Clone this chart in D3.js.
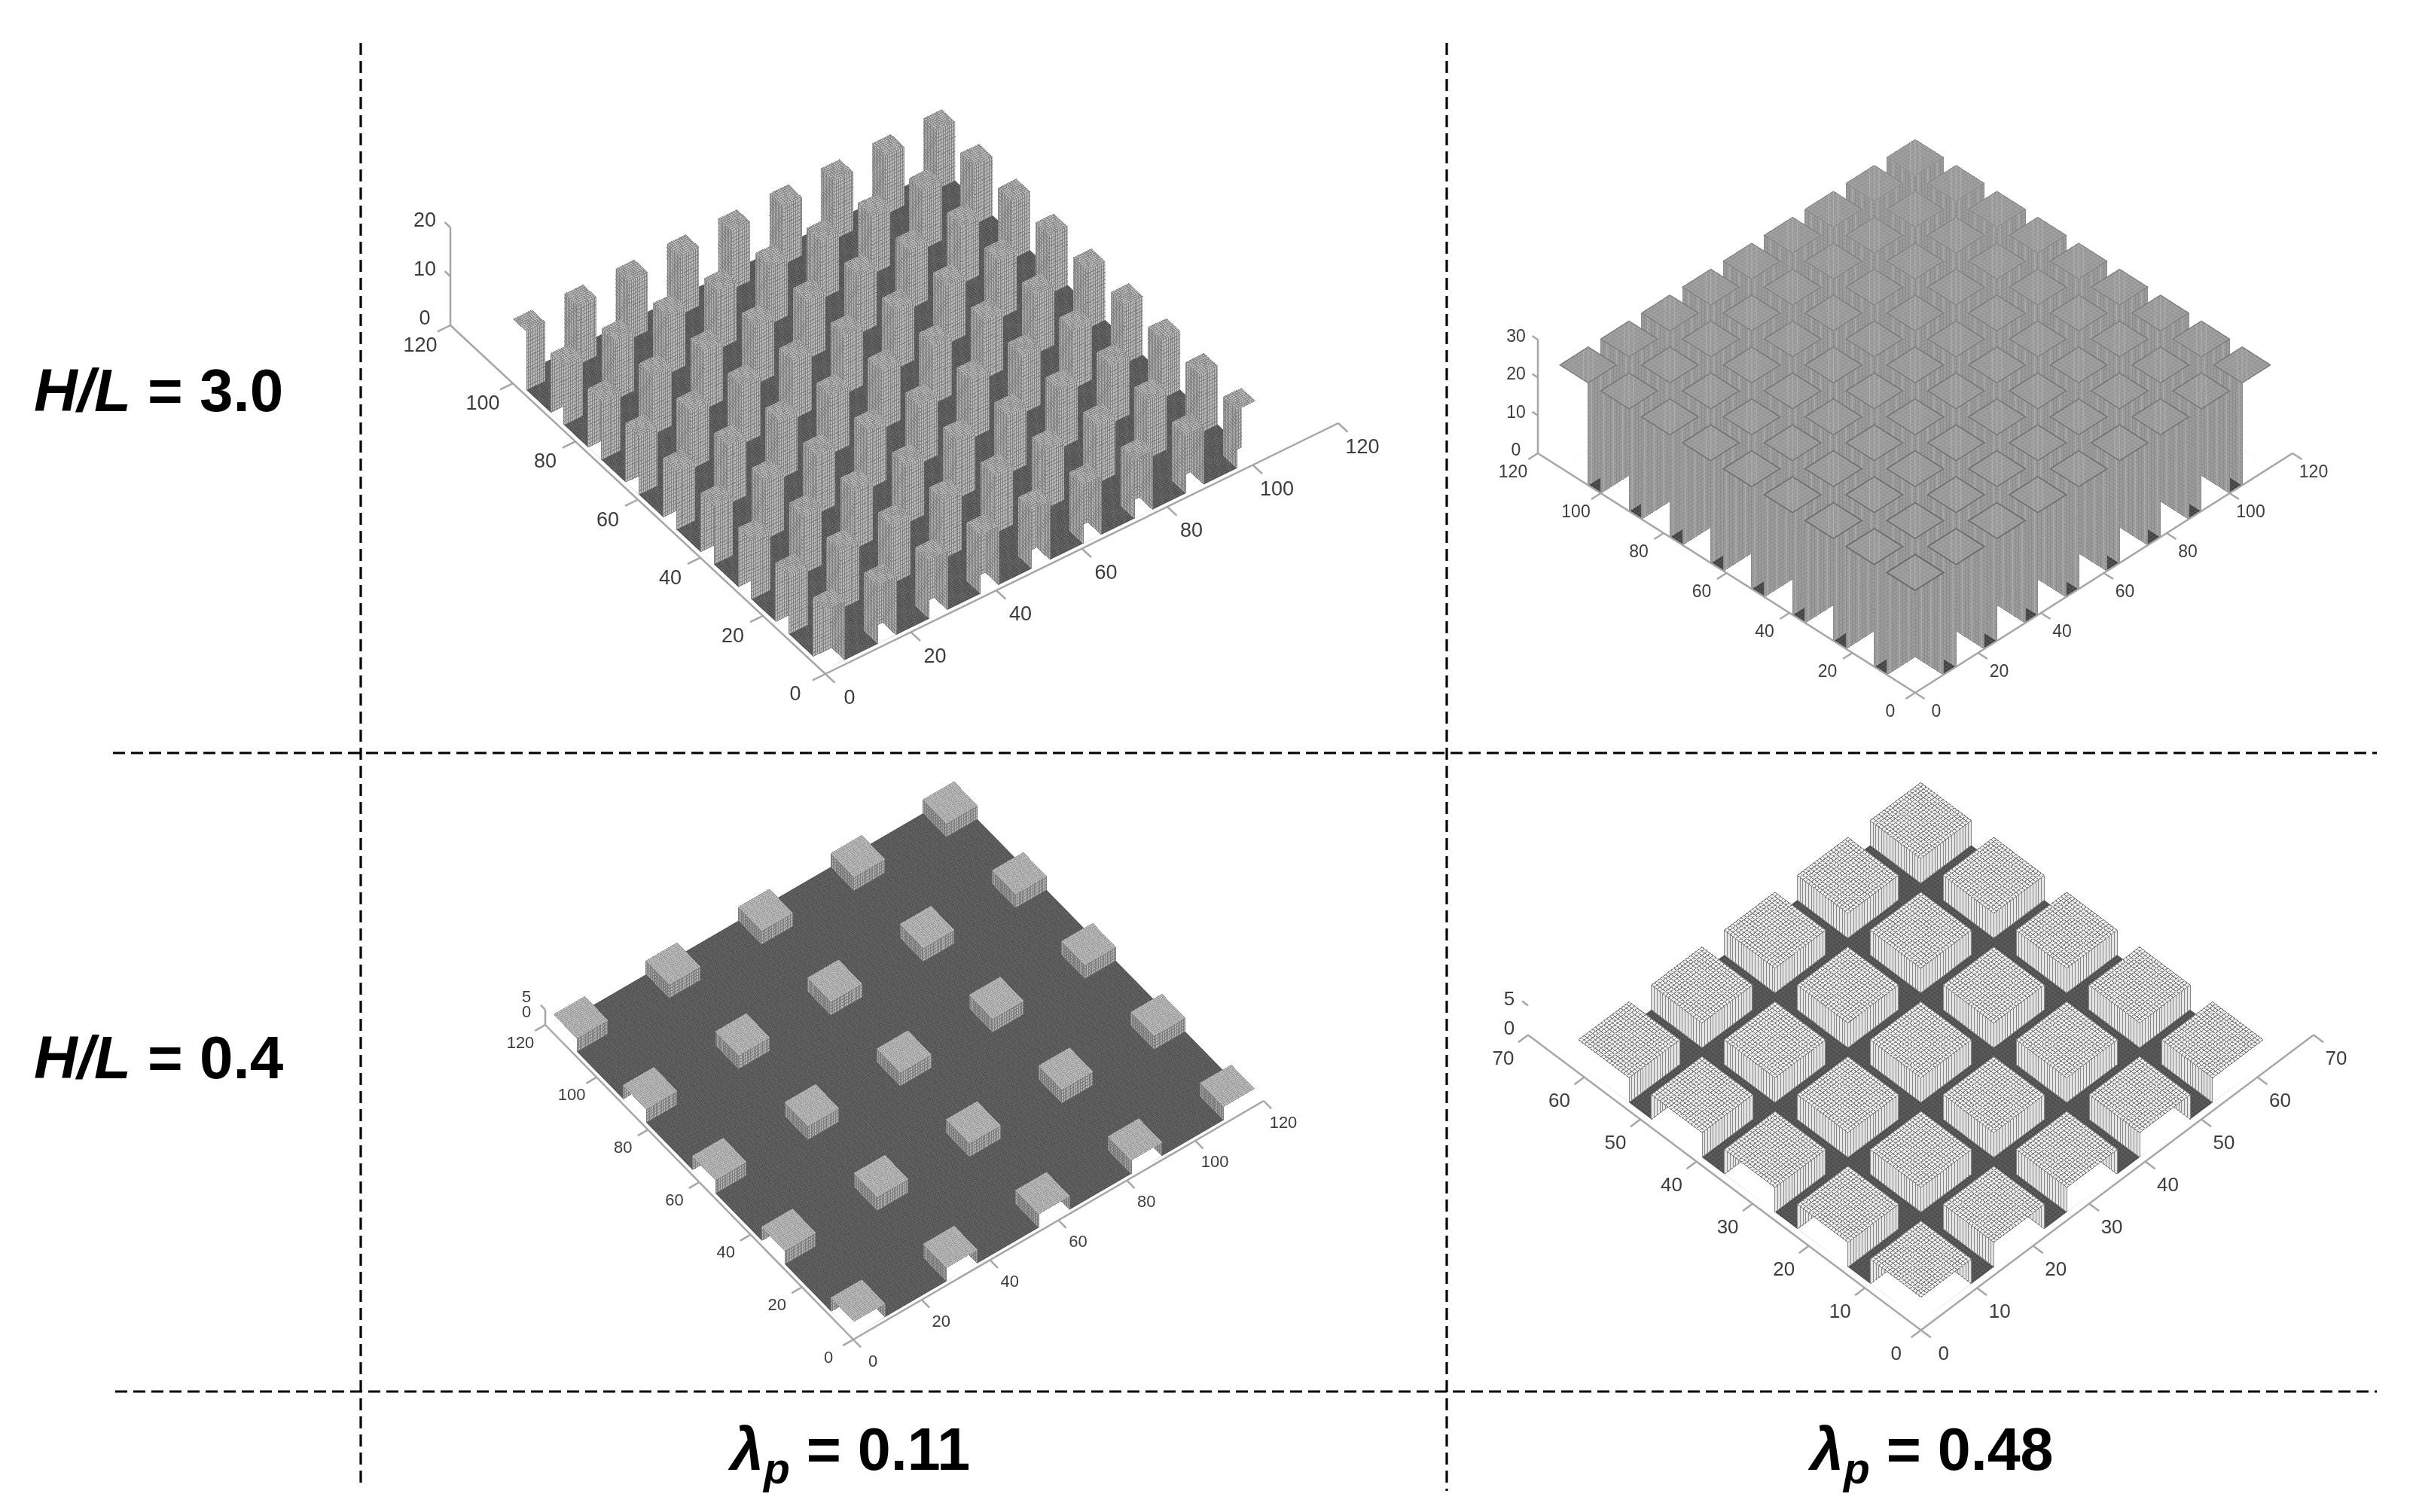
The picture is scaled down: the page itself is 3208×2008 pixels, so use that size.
<!DOCTYPE html>
<html><head><meta charset="utf-8">
<style>html,body{margin:0;background:#fff}svg{display:block}text{font-family:"Liberation Sans",Arial,sans-serif}</style>
<script src="https://cdnjs.cloudflare.com/ajax/libs/d3/7.8.5/d3.min.js"></script>
</head><body><svg id="c" width="3208" height="2008"></svg>
<script>
// ---- data ----
const rowLabels = ["3.0", "0.4"];
const columnLabels = ["0.11", "0.48"];
const startsA = [1, 13, 25, 37, 49, 61, 73, 85, 97];
const startsB = [0, 13, 26, 39, 52, 65, 78, 91, 104];
const startsC = [1, 28, 55, 82, 109];
const startsD = [1, 14, 27, 40, 53];
const widthA = 4.3, heightA = 12;
const widthB = 9, heightB = 27;
const widthC = 9, heightC = 4.5;
const widthD = 9, heightD = 4.2;
const ticks120 = [0, 20, 40, 60, 80, 100, 120];
const ticks70 = [0, 10, 20, 30, 40, 50, 60, 70];
const zTicksA = [0, 10, 20];
const zTicksB = [0, 10, 20, 30];
const zTicksCD = [0, 5];

// ---- layout ----
const panels = [
 {starts:startsA,L:widthA,H:heightA,ticks:ticks120,zTicks:zTicksA,
  o:[1096,895],r:[1777,562],l:[598,432],zPx:130,fs:27,
  offR:[32,31],offL:[-40,26],offZ:[-34,-10],step:.5,zStep:.75,zAxis:true,
  top:"#bdbdbd",topM:"#8a8a8a",wallX:"#b4b4b4",wallY:"#bababa",wallM:"#808080",ground:"#4c4c4c",groundM:"#666",edge:null,stripe:null},
 {starts:startsB,L:widthB,H:heightB,ticks:ticks120,zTicks:zTicksB,
  o:[2543,920],r:[3044,602],l:[2042,602],zPx:151,fs:23,
  offR:[28,24],offL:[-33,24],offZ:[-29,-5],step:1,zStep:1,zAxis:true,
  top:"#a0a0a0",topM:"#949494",wallX:"#9c9c9c",wallY:"#9c9c9c",wallM:"#8c8c8c",ground:"#444",groundM:"#555",edge:"#5a5a5a",stripe:{every:3,color:"#aaaaaa"}},
 {starts:startsC,L:widthC,H:heightC,ticks:ticks120,zTicks:zTicksCD,
  o:[1133,1779],r:[1678,1462],l:[724,1361],zPx:20,fs:22,
  offR:[26,28],offL:[-33,23],offZ:[-25,-18],step:.5,zStep:1,zAxis:true,
  top:"#c4c4c4",topM:"#a0a0a0",wallX:"#adadad",wallY:"#b5b5b5",wallM:"#7c7c7c",ground:"#4e4e4e",groundM:"#626262",edge:null,stripe:null},
 {starts:startsD,L:widthD,H:heightD,ticks:ticks70,zTicks:zTicksCD,
  o:[2550.7,1766.5],r:[3072,1374.5],l:[2029,1374.5],zPx:39,fs:26,
  offR:[30,30],offL:[-33,30],offZ:[-25,-10],step:.5,zStep:5,zAxis:false,
  top:"#f0f0f0",topM:"#808080",wallX:"#e4e4e4",wallY:"#e4e4e4",wallM:"#888888",ground:"#4f4f4f",groundM:"#5e5e5e",edge:null,stripe:null}
];

const svg = d3.select("#c");
const defs = svg.append("defs");
defs.append("filter").attr("id","soft").attr("x","-5%").attr("y","-5%").attr("width","110%").attr("height","110%")
  .attr("color-interpolation-filters","sRGB")
  .append("feGaussianBlur").attr("stdDeviation",0.7);

panels.forEach((p,pi)=>{
  const axisMax = d3.max(p.ticks), zMax = d3.max(p.zTicks);
  const xPx = d3.scaleLinear().domain([0,axisMax]).range([0,p.r[0]-p.o[0]]);
  const xPy = d3.scaleLinear().domain([0,axisMax]).range([0,p.r[1]-p.o[1]]);
  const yPx = d3.scaleLinear().domain([0,axisMax]).range([0,p.l[0]-p.o[0]]);
  const yPy = d3.scaleLinear().domain([0,axisMax]).range([0,p.l[1]-p.o[1]]);
  const zPy = d3.scaleLinear().domain([0,zMax]).range([0,-p.zPx]);
  const P = (x,y,z=0)=>[p.o[0]+xPx(x)+yPx(y), p.o[1]+xPy(x)+yPy(y)+zPy(z)];
  const g = svg.append("g").attr("filter","url(#soft)");

  const poly = pts => { const q=d3.path(); pts.forEach((a,i)=> i?q.lineTo(a[0],a[1]):q.moveTo(a[0],a[1])); q.closePath(); return q.toString(); };
  const seg = (q,a,b)=>{ q.moveTo(a[0],a[1]); q.lineTo(b[0],b[1]); };
  const steps = (a,b,s)=>{ const n=Math.floor((b-a)/s+1e-9); return d3.range(n+1).map(i=>a+i*s); };

  const dMin = d3.min(p.starts), dMax = d3.max(p.starts)+p.L;
  const edgeAlpha = d3.scaleLinear().domain([2*dMin,2*dMax-2*p.L]).range([.75,0.08]);

  // ground with footprints cut out
  let clipD = poly([P(dMin,dMin),P(dMax,dMin),P(dMax,dMax),P(dMin,dMax)]);
  p.starts.forEach(a=>p.starts.forEach(b=>{
    clipD += poly([P(a,b),P(a+p.L,b),P(a+p.L,b+p.L),P(a,b+p.L)]);
  }));
  defs.append("clipPath").attr("id","gc"+pi).append("path").attr("d",clipD).attr("clip-rule","evenodd");
  const gg = g.append("g").attr("clip-path",`url(#gc${pi})`);
  gg.append("path").attr("d",poly([P(dMin,dMin),P(dMax,dMin),P(dMax,dMax),P(dMin,dMax)])).attr("fill",p.ground);
  const gm = d3.path();
  steps(dMin,dMax,p.step).forEach(t=>{ seg(gm,P(t,dMin),P(t,dMax)); seg(gm,P(dMin,t),P(dMax,t)); });
  gg.append("path").attr("d",gm.toString()).attr("fill","none").attr("stroke",p.groundM).attr("stroke-width",1).attr("shape-rendering","crispEdges");

  // wall: constant x (axis "x") or constant y (axis "y")
  const wall = (axis,c,a0,a1,fill)=>{
    const pt = axis==="x" ? ((t,z)=>P(c,t,z)) : ((t,z)=>P(t,c,z));
    g.append("path").attr("d",poly([pt(a0,0),pt(a1,0),pt(a1,p.H),pt(a0,p.H)])).attr("fill",fill);
    const m = d3.path();
    steps(a0,a1,p.step).forEach(t=>seg(m,pt(t,0),pt(t,p.H)));
    steps(0,p.H,p.zStep).forEach(z=>seg(m,pt(a0,z),pt(a1,z)));
    g.append("path").attr("d",m.toString()).attr("fill","none").attr("stroke",p.wallM).attr("stroke-width",1).attr("shape-rendering","crispEdges");
    if(p.stripe){
      const s=d3.path();
      steps(a0+1,a1-.5,p.stripe.every).forEach(t=>seg(s,pt(t,0),pt(t,p.H)));
      g.append("path").attr("d",s.toString()).attr("fill","none").attr("stroke",p.stripe.color).attr("stroke-width",1.6);
    }
  };

  const cells = [];
  p.starts.forEach(a=>p.starts.forEach(b=>cells.push([a,b])));
  cells.sort((u,v)=>(v[0]+v[1])-(u[0]+u[1]));
  cells.forEach(([a,b])=>{
    const a1=a+p.L, b1=b+p.L;
    if(a1<dMax) wall("x",a1,b,b1,p.wallX);
    if(b1<dMax) wall("y",b1,a,a1,p.wallY);
    if(a>dMin) wall("x",a,b,b1,p.wallX);
    if(b>dMin) wall("y",b,a,a1,p.wallY);
    const corners=[P(a,b,p.H),P(a1,b,p.H),P(a1,b1,p.H),P(a,b1,p.H)];
    g.append("path").attr("d",poly(corners)).attr("fill",p.top);
    const m=d3.path();
    steps(a,a1,p.step).forEach(t=>seg(m,P(t,b,p.H),P(t,b1,p.H)));
    steps(b,b1,p.step).forEach(t=>seg(m,P(a,t,p.H),P(a1,t,p.H)));
    g.append("path").attr("d",m.toString()).attr("fill","none").attr("stroke",p.topM).attr("stroke-width",1).attr("shape-rendering","crispEdges");
    if(p.stripe){
      const s=d3.path();
      seg(s,P(a+1.5,b,p.H),P(a1,b1-1.5,p.H));
      seg(s,P(a,b,p.H),P(a1,b1,p.H));
      seg(s,P(a,b+1.5,p.H),P(a1-1.5,b1,p.H));
      g.append("path").attr("d",s.toString()).attr("fill","none").attr("stroke","#b4b4b4").attr("stroke-width",1.4).attr("opacity",.7);
    }
    if(p.edge) g.append("path").attr("d",poly(corners)).attr("fill","none").attr("stroke",p.edge).attr("stroke-width",1.8).attr("opacity",edgeAlpha(a+b));
  });

  // axes
  const ax = g.append("g").attr("stroke","#a6a6a6").attr("stroke-width",2.5).attr("fill","none");
  const line=(a,b)=>ax.append("line").attr("x1",a[0]).attr("y1",a[1]).attr("x2",b[0]).attr("y2",b[1]);
  const tl = axisMax/40;
  line(P(0,0),P(axisMax,0)); line(P(0,0),P(0,axisMax));
  if(p.zAxis) line(P(0,axisMax,0),P(0,axisMax,zMax));
  const tg = g.append("g").attr("fill","#3c3c3c").attr("font-size",p.fs).attr("text-anchor","middle").attr("dominant-baseline","central");
  p.ticks.forEach(t=>{
    line(P(t,0),P(t,-tl)); line(P(0,t),P(-tl,t));
    const a=P(t,0), b=P(0,t);
    tg.append("text").attr("x",a[0]+p.offR[0]).attr("y",a[1]+p.offR[1]).text(t);
    tg.append("text").attr("x",b[0]+p.offL[0]).attr("y",b[1]+p.offL[1]).text(t);
  });
  p.zTicks.forEach(z=>{
    const a=P(0,axisMax,z);
    if(z>0) line(a,P(0,axisMax+tl*.6,z));
    tg.append("text").attr("x",a[0]+p.offZ[0]).attr("y",a[1]+p.offZ[1]).text(z);
  });
});

// dashed frame
const dash = [[479,57,479,1976],[1921,57,1921,1980],[150,1000,3156,1000],[153,1848,3156,1848]];
svg.selectAll("line.d").data(dash).enter().append("line").attr("class","d")
  .attr("x1",d=>d[0]).attr("y1",d=>d[1]).attr("x2",d=>d[2]).attr("y2",d=>d[3])
  .attr("stroke","#000").attr("stroke-width",3.2).attr("stroke-dasharray","16 8");

// row and column captions
rowLabels.forEach((v,i)=>{
  const t = svg.append("text").attr("x",45).attr("y",546+i*886).attr("font-size",80).attr("font-weight","bold").attr("fill","#000");
  t.append("tspan").attr("font-style","italic").text("H/L");
  t.append("tspan").text(" = "+v);
});
columnLabels.forEach((v,i)=>{
  const t = svg.append("text").attr("x",[970,2404][i]).attr("y",1952).attr("font-size",79).attr("font-weight","bold").attr("fill","#000");
  t.append("tspan").attr("font-style","italic").text("λ");
  t.append("tspan").attr("font-style","italic").attr("font-size",57).attr("dy",18).text("p");
  t.append("tspan").attr("dy",-18).text(" = "+v);
});
</script></body></html>
